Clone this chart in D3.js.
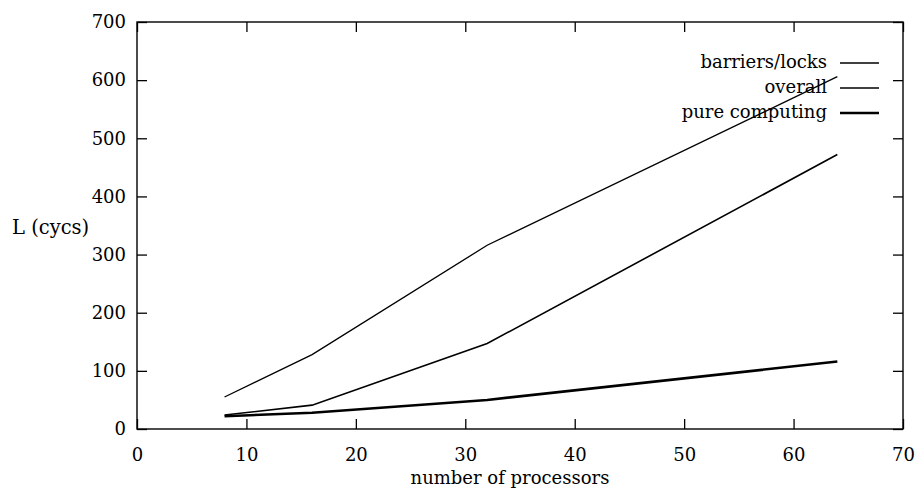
<!DOCTYPE html>
<html>
<head>
<meta charset="utf-8">
<script src="https://cdn.jsdelivr.net/npm/d3@7"></script>
<style>
body { margin: 0; background: #fff; }
text { font-family: "DejaVu Serif", "Liberation Serif", serif; fill: #000; }
</style>
</head>
<body>
<svg width="915" height="492"></svg>
<script>
var procs = [8, 16, 32, 64];
var barriers = [55, 128, 316, 606];
var overall = [24, 41, 147, 472];
var pureComputing = [22, 28, 50, 116];
var xTicks = [0, 10, 20, 30, 40, 50, 60, 70];
var yTicks = [0, 100, 200, 300, 400, 500, 600, 700];

var series = [
  { name: "barriers/locks", values: barriers, width: 1.3 },
  { name: "overall", values: overall, width: 1.6 },
  { name: "pure computing", values: pureComputing, width: 2.6 }
];

var svg = d3.select("svg"),
    mLeft = 137, mRight = 903, mTop = 22, mBottom = 429;

var x = d3.scaleLinear().domain([0, 70]).range([mLeft, mRight]);
var y = d3.scaleLinear().domain([0, 700]).range([mBottom, mTop]);

// frame
svg.append("rect")
  .attr("x", mLeft).attr("y", mTop)
  .attr("width", mRight - mLeft).attr("height", mBottom - mTop)
  .attr("fill", "none").attr("stroke", "#000").attr("stroke-width", 1.4);

// axes with inward ticks on all four sides
var fmt = d3.format("d");
svg.append("g").attr("transform", "translate(0," + mBottom + ")")
  .call(d3.axisBottom(x).tickValues(xTicks).tickSize(-10).tickPadding(19).tickFormat(fmt));
svg.append("g").attr("transform", "translate(0," + mTop + ")")
  .call(d3.axisTop(x).tickValues(xTicks).tickSize(-10).tickFormat(""));
svg.append("g").attr("transform", "translate(" + mLeft + ",0)")
  .call(d3.axisLeft(y).tickValues(yTicks).tickSize(-10).tickPadding(11).tickFormat(fmt));
svg.append("g").attr("transform", "translate(" + mRight + ",0)")
  .call(d3.axisRight(y).tickValues(yTicks).tickSize(-10).tickFormat(""));

svg.selectAll(".domain").remove();
svg.selectAll(".tick line").attr("stroke", "#000").attr("stroke-width", 1.3);
svg.selectAll(".tick text")
  .attr("font-family", "DejaVu Serif, serif")
  .attr("font-size", 18);

// lines
var line = d3.line()
  .x(function(d, i) { return x(procs[i]); })
  .y(function(d) { return y(d); });

svg.selectAll(".series")
  .data(series)
  .enter()
  .append("path")
    .attr("d", function(d) { return line(d.values); })
    .attr("fill", "none")
    .attr("stroke", "#000")
    .attr("stroke-width", function(d) { return d.width; });

// legend
var legend = svg.selectAll(".legend")
  .data(series)
  .enter()
  .append("g")
    .attr("transform", function(d, i) { return "translate(0," + (63 + i * 25) + ")"; });
legend.append("text")
  .attr("x", 827).attr("y", 5)
  .attr("text-anchor", "end")
  .style("font-size", "18px")
  .text(function(d) { return d.name; });
legend.append("line")
  .attr("x1", 840).attr("x2", 879)
  .attr("stroke", "#000")
  .attr("stroke-width", function(d) { return d.width; });

// axis titles
svg.append("text").attr("x", 12).attr("y", 234)
  .style("font-size", "19.5px").text("L (cycs)");
svg.append("text").attr("x", 510).attr("y", 484)
  .attr("text-anchor", "middle")
  .style("font-size", "18px").text("number of processors");
</script>
</body>
</html>
